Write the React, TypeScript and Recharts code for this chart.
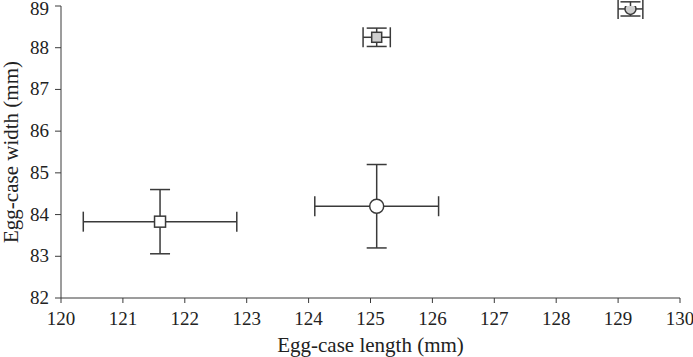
import { ScatterChart, Scatter, XAxis, YAxis, ErrorBar } from 'recharts';

// egg-case measurements (mean ± error), one entry per group
const groups = ['open-square', 'open-circle', 'grey-square', 'grey-circle'];
const caseLengths = [121.6, 125.1, 125.1, 129.2];
const caseWidths = [83.83, 84.2, 88.25, 88.93];
const lengthErrors = [1.24, 1.0, 0.22, 0.2];
const widthErrors = [0.77, 1.0, 0.22, 0.17];

const xTicks = [120, 121, 122, 123, 124, 125, 126, 127, 128, 129, 130];
const yTicks = [82, 83, 84, 85, 86, 87, 88, 89];

const INK = '#3a3a3a';
const GREY = '#cfcfcf';
const TEXT = '#222';
const FONT = '"Liberation Serif", "Times New Roman", serif';

const markerStyles: Record<string, { kind: 'square' | 'circle'; fill: string; size: number }> = {
  'open-square': { kind: 'square', fill: '#ffffff', size: 11 },
  'open-circle': { kind: 'circle', fill: '#ffffff', size: 14 },
  'grey-square': { kind: 'square', fill: GREY, size: 10 },
  'grey-circle': { kind: 'circle', fill: GREY, size: 11 },
};

function makeShape(name: string) {
  const style = markerStyles[name];
  return (props: any) => {
    const { cx, cy } = props;
    if (cx == null || cy == null) return <g />;
    if (style.kind === 'circle') {
      return <circle cx={cx} cy={cy} r={style.size / 2} fill={style.fill} stroke={INK} strokeWidth={1.5} />;
    }
    const h = style.size / 2;
    return <rect x={cx - h} y={cy - h} width={style.size} height={style.size} fill={style.fill} stroke={INK} strokeWidth={1.5} />;
  };
}

// serif tick labels drawn by hand so the font is certain
const XTick = (props: any) => {
  const { x, y, payload } = props;
  return (
    <text x={x} y={y + 13} textAnchor="middle" fill={TEXT} fontSize={19} style={{ fontFamily: FONT }}>
      {payload.value}
    </text>
  );
};

const YTick = (props: any) => {
  const { x, y, payload } = props;
  return (
    <text x={x} y={y + 6} textAnchor="end" fill={TEXT} fontSize={19} style={{ fontFamily: FONT }}>
      {payload.value}
    </text>
  );
};

export default function App() {
  const series = groups.map((name, i) => ({
    name,
    data: [
      {
        length: caseLengths[i],
        width: caseWidths[i],
        lengthErr: lengthErrors[i],
        widthErr: widthErrors[i],
      },
    ],
  }));

  return (
    <div style={{ position: 'absolute', left: 0, top: 0, background: '#fff', fontFamily: FONT }}>
      <ScatterChart width={693} height={357} margin={{ top: 6, right: 13, bottom: 0, left: 0 }}>
        <XAxis
          type="number"
          dataKey="length"
          domain={[120, 130]}
          ticks={xTicks}
          allowDataOverflow
          height={59}
          stroke={INK}
          tickSize={5}
          tickMargin={9}
          tick={<XTick />}
          label={{
            value: 'Egg-case length (mm)',
            position: 'insideBottom',
            offset: 5,
            fill: TEXT,
            fontSize: 21,
            fontFamily: FONT,
          }}
        />
        <YAxis
          type="number"
          dataKey="width"
          domain={[82, 89]}
          ticks={yTicks}
          allowDataOverflow
          width={61}
          stroke={INK}
          tickSize={6}
          tickMargin={6}
          tick={<YTick />}
          label={{
            value: 'Egg-case width (mm)',
            angle: -90,
            position: 'insideLeft',
            offset: 11,
            style: { textAnchor: 'middle' },
            fill: TEXT,
            fontSize: 21,
            fontFamily: FONT,
          }}
        />
        {series.map((s) => (
          <Scatter key={s.name} data={s.data} shape={makeShape(s.name)} isAnimationActive={false}>
            <ErrorBar dataKey="lengthErr" direction="x" width={10} stroke={INK} strokeWidth={1.5} />
            <ErrorBar dataKey="widthErr" direction="y" width={10} stroke={INK} strokeWidth={1.5} />
          </Scatter>
        ))}
      </ScatterChart>
    </div>
  );
}
